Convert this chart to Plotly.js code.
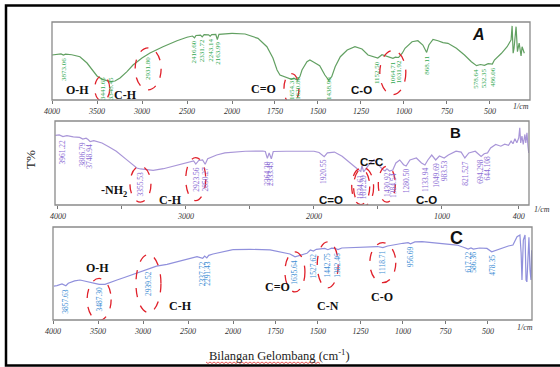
<!DOCTYPE html>
<html><head><meta charset="utf-8">
<script src="https://cdn.plot.ly/plotly-3.0.1.min.js"></script>
<style>html,body{margin:0;padding:0;background:#fff}#chart{width:560px;height:367px}</style>
</head><body><div id="chart"></div>
<script>
// ---------- DATA ----------
// Spectrum A (wavenumber cm-1, relative %T 0..100 of frame)
const waveA = [4000,3950,3900,3873,3850,3780,3690,3611,3556,3500,3441,3400,3348,3300,3244,3167,3100,3000,2931,2911,2767,2611,2500,2440,2416,2400,2350,2331,2310,2260,2243,2225,2180,2163,2145,2080,2000,1924,1849,1797,1762,1738,1721,1700,1680,1654,1640,1620,1605,1593,1564,1547,1529,1490,1460,1438,1420,1400,1370,1330,1285,1244,1209,1180,1152,1128,1100,1064,1050,1031,1010,994,953,919,890,868,855,831,802,773,744,695,648,608,578,555,532,510,486,474,433,400,385,377,371,365,360,348,340,330,319,313,300];
const transA = [57.7,58.5,59,57.5,58.8,58,55.5,47.4,38.5,30.8,26.5,25,23.5,24.4,28.2,36.3,44.9,53.8,58.5,60.3,68.3,76,80.4,82,79.8,82.7,83.3,81,83.7,83.5,81.8,83.8,84,77.5,84.2,85,85.5,84.6,79,68.3,53.8,38.5,32,30,29,26.5,28,25.5,30,38.5,49,51.3,49,44,32,25.6,30,42.7,55.5,64.1,68.3,65.4,57.7,55.5,53.8,58,56,53.5,55,54.5,60,66.3,74.7,76,70.5,61,70.5,77.8,76,73.5,72.7,66.3,57.7,49,44,45.5,44.5,46.5,46,51.3,59.9,68.3,74,77,95,60,66,94,62,73,56.4,68.3,60];
const peakLabelsA = ["3873.06","3441.65","3348.45","2931.80","2416.60","2331.72","2243.14","2163.99","1654.31","1620.80","1438.90","1152.50","1064.71","1031.92","868.11","578.64","532.35","486.06"];
const circledA = ["3441.65","2931.80","1654.31","1064.71"];

// Spectrum B
const waveB = [4020,3990,3961,3930,3880,3830,3806,3780,3765,3748,3720,3656,3600,3544,3464,3384,3355,3300,3256,3176,3064,2960,2940,2923,2900,2870,2850,2830,2760,2696,2536,2400,2380,2364,2350,2333,2318,2216,2056,2000,1960,1920,1895,1840,1780,1720,1660,1634,1625,1612,1590,1560,1530,1500,1460,1445,1430,1410,1384,1360,1330,1300,1280,1250,1200,1160,1133,1110,1080,1049,1020,983,950,890,850,821,790,740,694,670,644,620,580,540,510,480,460,445,430,415,400,392,385,375,365,352,345,336,328,322];
const transB = [83,83.5,81.5,82.5,81,80.5,78.5,79.5,78,75.5,76.5,73.8,69,64,54,44,42.9,41.7,41.3,43.2,48,52,52.5,48.8,53,53.6,48.5,55,59.5,62,64,64.3,63.7,55.5,62,55,63.7,64,64.3,64,62.5,57.5,62,63,58,50,42.9,40,47,39.5,44,50,54,48,42,40.5,43,40.5,41.7,50,53.6,48,46.4,53.6,56,50,47.6,53.6,59.5,53.6,58.3,56,59.5,64,63,56,62,64,57.7,61,62,68,72,70,72.5,71,76,73,79,74,80,92,74,82,72,84,74,86,70,62];
const peakLabelsB = ["3961.22","3806.79","3748.94","3355.53","2923.56","2850.27","2364.30","2333.45","1920.55","1634.61","1612.20","1430.92","1384.54","1280.50","1133.94","1049.69","983.53","821.527","694.298","644.108"];
const circledB = ["3355.53","2923.56","1634.61","1612.20","1430.92"];

// Spectrum C
const waveC = [3990,3956,3900,3857,3830,3760,3700,3650,3589,3530,3487,3422,3350,3289,3200,3111,3000,2939,2850,2733,2556,2450,2400,2337,2315,2291,2270,2222,2100,2033,2000,1900,1782,1724,1665,1635,1600,1565,1545,1527,1510,1460,1442,1420,1400,1382,1360,1323,1235,1150,1118,1090,1000,970,956,930,888,800,682,640,617,600,586,550,506,478,450,400,380,353,329,312,305,300,292,282,276,271,265,259,253,247,243];
const transC = [36.5,36.9,38.7,36.8,39.5,42,43,41.9,41.2,39.5,38.4,38.4,40.5,43,46,49.1,53,55.6,58,59.9,64.5,67,68.1,66.2,68.8,66.8,69.5,71,73.5,75.3,75.6,76,75.3,73,71,68,70,71.7,75.3,74.2,76,77,75.6,77.2,77,75.8,77.4,77.6,78.8,79,77.9,79.6,82.5,83.2,82,84,84.2,82.5,80.6,78,76.3,77.4,76.2,77.4,77,73.4,75.3,78,79.6,80.6,89.6,91.4,72,43,86,91.4,43,41,75,89,54,43,75];
const peakLabelsC = ["3857.63","3487.30","2939.52","2337.72","2291.43","1635.64","1527.62","1442.75","1382.46","1118.71","956.69","617.22","586.36","478.35"];
const circledC = ["3487.30","2939.52","1635.64","1442.75","1118.71"];

const ticksWide = [4000,3500,3000,2500,2000];
const ticksNarrow = [1750,1500,1250,1000,750,500];
const ticksB = [4000,3000,2000,1000,400];
const minorTicksB = [3500,2500,1500];

// ---------- LAYOUT HELPERS ----------
const W = 560, H = 367;
const px = x => x / W, py = y => 1 - y / H;
const panels = {
  A: {top: 22, bottom: 100, left: 52, split: 232, right: 530, wave: waveA, val: transA, labels: peakLabelsA, circled: circledA,
      line: '#62a062', text: '#2fa84f', fs: 7, xl: 'x', xr: 'x2', yref: 'y'},
  B: {top: 121, bottom: 205, left: 55, right: 529, wave: waveB, val: transB, labels: peakLabelsB, circled: circledB,
      line: '#a996d8', text: '#8a6bd4', fs: 7.5, xl: 'x3', xr: 'x3', yref: 'y2'},
  C: {top: 227, bottom: 320, left: 53, split: 233, right: 532, wave: waveC, val: transC, labels: peakLabelsC, circled: circledC,
      line: '#9090dc', text: '#3d8ed4', fs: 7.5, xl: 'x4', xr: 'x5', yref: 'y3'}
};
const ellipseSize = {
  "3441.65": [15, 25], "2931.80": [26, 42], "1654.31": [15, 30], "1064.71": [26, 44],
  "3355.53": [21, 36], "2923.56": [20, 43], "1634.61": [18, 36], "1612.20": [20, 38], "1430.92": [17, 36],
  "3487.30": [24, 42], "2939.52": [25, 58], "1635.64": [20, 40], "1442.75": [21, 46], "1118.71": [26, 40]
};

function interp(w, v, x) {
  for (let i = 0; i < w.length - 1; i++) {
    if ((w[i] >= x && x >= w[i + 1])) {
      const t = (w[i] - x) / (w[i] - w[i + 1]);
      return v[i] + t * (v[i + 1] - v[i]);
    }
  }
  return v[v.length - 1];
}

const traces = [], annotations = [], shapes = [];

function addPanel(p) {
  if (p.split) {
    const li = [], ri = [];
    p.wave.forEach((w, i) => { if (w >= 2000) li.push(i); if (w <= 2000) ri.push(i); });
    traces.push({x: li.map(i => p.wave[i]), y: li.map(i => p.val[i]), xaxis: p.xl, yaxis: p.yref, mode: 'lines', line: {color: p.line, width: 1.2}, hoverinfo: 'skip'});
    traces.push({x: ri.map(i => p.wave[i]), y: ri.map(i => p.val[i]), xaxis: p.xr, yaxis: p.yref, mode: 'lines', line: {color: p.line, width: 1.2}, hoverinfo: 'skip'});
  } else {
    traces.push({x: p.wave, y: p.val, xaxis: p.xl, yaxis: p.yref, mode: 'lines', line: {color: p.line, width: 1.2}, hoverinfo: 'skip'});
  }
  const unitsPerPx = 100 / (p.bottom - p.top);
  p.labels.forEach(s => {
    const w = parseFloat(s);
    const xr = (p.split && w < 2000) ? p.xr : p.xl;
    const lenPx = ((s.length - 1) * 0.5 + 0.25) * p.fs;
    const half = lenPx / 2;
    let yc = interp(p.wave, p.val, w) - (3 + half) * unitsPerPx;
    yc = Math.max(yc, half * unitsPerPx);
    annotations.push({x: w, y: yc, xref: xr, yref: p.yref, text: s, showarrow: false, textangle: -90,
      font: {family: 'Liberation Serif', size: p.fs, color: p.text}, xanchor: 'center', yanchor: 'middle'});
    if (p.circled.includes(s)) {
      const sz = ellipseSize[s];
      shapes.push({type: 'circle', xref: xr, yref: p.yref, xsizemode: 'pixel', ysizemode: 'pixel',
        xanchor: w, yanchor: yc, x0: -sz[0] / 2, x1: sz[0] / 2, y0: -sz[1] / 2, y1: sz[1] / 2,
        line: {color: '#e0202a', width: 1.3, dash: 'dash'}});
    }
  });
  shapes.push({type: 'rect', xref: 'paper', yref: 'paper', x0: px(p.left), x1: px(p.right), y0: py(p.bottom), y1: py(p.top),
    line: {color: '#8a8a8a', width: 1.3}});
}
addPanel(panels.A); addPanel(panels.B); addPanel(panels.C);

const tickFont = {family: 'Liberation Serif', size: 8, style: 'italic', color: '#333'};
function xax(dom, range, anchor, vals, minorVals) {
  const a = {domain: dom, range: range, anchor: anchor, showgrid: false, zeroline: false, showline: false,
    ticks: 'outside', ticklen: 3, tickcolor: '#777', tickfont: tickFont, tickmode: 'array', tickvals: vals, fixedrange: true};
  if (minorVals) a.minor = {tickmode: 'array', tickvals: minorVals, ticks: 'outside', ticklen: 3, tickcolor: '#777', showgrid: false};
  return a;
}
function yax(dom, anchor) {
  return {domain: dom, range: [0, 100], anchor: anchor, showgrid: false, zeroline: false, showline: false,
    showticklabels: false, ticks: '', fixedrange: true};
}
function paperText(x, y, text, font, extra) {
  annotations.push(Object.assign({x: px(x), y: py(y), xref: 'paper', yref: 'paper', text: text, showarrow: false,
    xanchor: 'center', yanchor: 'middle', font: font}, extra || {}));
}

// group labels
const groups = [
  ['O-H', 77, 90, 'serif'], ['C-H', 125, 95, 'serif'], ['C=O', 263, 89, 'serif'], ['C-O', 361, 90, 'sans'],
  ['-NH<sub>2</sub>', 114, 191, 'serif'], ['C-H', 170, 200, 'serif'], ['C=O', 331, 200, 'sans'], ['C=C', 371, 162, 'sans'], ['C-O', 426, 200, 'sans'],
  ['O-H', 97, 268, 'serif'], ['C-H', 180, 306, 'serif'], ['C=O', 277, 287, 'serif'], ['C-N', 328, 306, 'serif'], ['C-O', 382, 297, 'serif']
];
groups.forEach(g => paperText(g[1], g[2], '<b>' + g[0] + '</b>',
  {family: g[3] === 'serif' ? 'Liberation Serif' : 'Liberation Sans', size: g[3] === 'serif' ? 12 : 11.5, color: '#111'}));

// panel letters
paperText(478, 35, '<b><i>A</i></b>', {family: 'Liberation Sans', size: 16, color: '#111'});
paperText(455, 132, '<b>B</b>', {family: 'Liberation Sans', size: 15, color: '#111'});
paperText(456, 238, '<b>C</b>', {family: 'Liberation Sans', size: 18, color: '#111'});
// 1/cm unit labels
[[521, 107], [542, 209], [525, 327]].forEach(u => paperText(u[0], u[1], '1/cm', tickFont));
// axis titles
paperText(30, 160, 'T%', {family: 'Liberation Serif', size: 13, color: '#222'}, {textangle: -90});
paperText(279, 355, 'Bilangan Gelombang (cm<sup>-1</sup>)', {family: 'Liberation Serif', size: 12.5, color: '#222'});
// spell-check wavy underline
let path = 'M ' + px(206) + ',' + py(362);
for (let x = 208, k = 0; x <= 320; x += 2, k++) path += ' L ' + px(x) + ',' + py(k % 2 === 0 ? 363.5 : 362);
shapes.push({type: 'path', xref: 'paper', yref: 'paper', path: path, line: {color: '#e03030', width: 0.8}});
// outer frame
shapes.push({type: 'rect', xref: 'paper', yref: 'paper', x0: px(6), x1: px(570), y0: py(365.5), y1: py(5.5), line: {color: '#000', width: 2.5}});

const layout = {
  width: W, height: H, autosize: false, margin: {l: 0, r: 0, t: 0, b: 0, pad: 0},
  paper_bgcolor: '#fff', plot_bgcolor: 'rgba(0,0,0,0)', showlegend: false,
  xaxis: xax([px(52), px(232)], [4000, 2000], 'y', ticksWide),
  xaxis2: xax([px(232), px(530)], [2000, 267], 'y', ticksNarrow),
  yaxis: yax([py(100), py(22)], 'x'),
  xaxis3: xax([px(55), px(529)], [4023, 320], 'y2', ticksB, minorTicksB),
  yaxis2: yax([py(205), py(121)], 'x3'),
  xaxis4: xax([px(53), px(233)], [4000, 2000], 'y3', ticksWide),
  xaxis5: xax([px(233), px(532)], [2000, 241], 'y3', ticksNarrow),
  yaxis3: yax([py(320), py(227)], 'x4'),
  annotations: annotations, shapes: shapes
};
Plotly.newPlot('chart', traces, layout, {staticPlot: true, displayModeBar: false});
</script>
</body></html>
